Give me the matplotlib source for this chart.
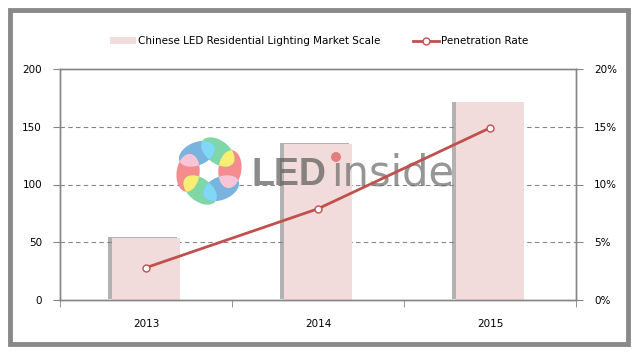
import numpy as np
import matplotlib.pyplot as plt
import matplotlib.patheffects as pe
from matplotlib.patches import Rectangle, Ellipse, Circle, Patch

years = ["2013", "2014", "2015"]
market_scale = [54, 135, 171]
penetration = [2.8, 7.9, 14.9]  # percent

left_ticks = [0, 50, 100, 150, 200]
right_ticks = [0, 5, 10, 15, 20]
right_labels = ["0%", "5%", "10%", "15%", "20%"]

bar_color = "#F2DCDB"
line_color = "#C0504D"
axis_color = "#868686"

plt.rcParams["font.family"] = ["DejaVu Sans"]
plt.rcParams["font.size"] = 7.5

fig = plt.figure(figsize=(6.36, 3.54), dpi=100)
ax = fig.add_axes([60 / 636, 1 - 300 / 354, 516 / 636, 231 / 354])
ax2 = ax.twinx()

x = np.arange(len(years))

# --- grid ---
for v in left_ticks[1:-1]:
    ax.axhline(v, color=axis_color, linewidth=0.8, linestyle=(0, (4, 3)), zorder=0)

# --- bars with left shadow ---
bars = ax.bar(x, market_scale, width=0.4, color=bar_color, zorder=2)
for b in bars:
    b.set_path_effects([
        pe.SimplePatchShadow(offset=(-2.5, 0.6), shadow_rgbFace="#7f7f7f", alpha=0.6),
        pe.Normal(),
    ])

ax.set_xlim(-0.5, 2.5)
ax.set_ylim(0, 200)
ax.set_yticks(left_ticks)
ax.set_xticks(x)
ax.set_xticklabels(years)
ax.set_xticks([-0.5, 0.5, 1.5, 2.5], minor=True)
ax.tick_params(axis="x", which="major", length=0, pad=14)
ax.tick_params(axis="x", which="minor", length=5, color=axis_color, direction="out")
ax.tick_params(axis="y", length=5, color=axis_color, direction="out", pad=8)

# --- line ---
line, = ax2.plot(x, penetration, color=line_color, linewidth=2, marker="o",
                 markersize=5, markerfacecolor="white", markeredgecolor=line_color,
                 markeredgewidth=1, zorder=4, label="Penetration Rate")
ax2.set_ylim(0, 20)
ax2.set_yticks(right_ticks)
ax2.set_yticklabels(right_labels)
ax2.tick_params(axis="y", length=5, color=axis_color, direction="out", pad=8)

for a in (ax, ax2):
    for s in a.spines.values():
        s.set_color(axis_color)
        s.set_linewidth(1)

# --- watermark logo (pixel coordinates, between bars and line) ---
logo = fig.add_axes([0, 0, 1, 1])
logo.set_xlim(0, 636)
logo.set_ylim(354, 0)
logo.axis("off")
logo.patch.set_visible(False)

ax.set_zorder(1)
logo.set_zorder(1.5)
ax2.set_zorder(2)
ax2.patch.set_visible(False)

cx, cy, dist = 209, 171, 21
petal_colors = ["#f58c8e", "#7fd6a6", "#78b4de", "#f58c8e", "#7fd6a6", "#78b4de"]
mix_colors = ["#fbee73", "#7fd8f5", "#f8c5d7", "#fbee73", "#7fd8f5", "#f8c5d7"]
petals = []
for i, c in enumerate(petal_colors):
    t = np.deg2rad(5 + 60 * i)
    e = Ellipse((cx + dist * np.cos(t), cy - dist * np.sin(t)), 38, 23,
                angle=-(np.rad2deg(t) + 90 - 12), facecolor=c, edgecolor="none")
    logo.add_patch(e)
    petals.append(e)
for i, c in enumerate(mix_colors):
    a, b = petals[i], petals[(i + 1) % 6]
    m = Ellipse(b.center, b.width, b.height, angle=b.angle, facecolor=c,
                edgecolor="none")
    logo.add_patch(m)
    m.set_clip_path(a)

logo.text(252, 185, "LED", fontsize=27, fontweight="bold", color="#5a5a5a",
          alpha=0.7, va="baseline", ha="left", family=["Liberation Sans", "DejaVu Sans"])
logo.text(331, 185, "\u0131nside", fontsize=30, color="#6a6a6a",
          alpha=0.7, va="baseline", ha="left")
logo.add_patch(Circle((336, 157), 5, facecolor="#e06c70", edgecolor="none", alpha=0.85))

# --- legend ---
bar_handle = Patch(facecolor=bar_color, edgecolor="none",
                   label="Chinese LED Residential Lighting Market Scale")
fig.legend(handles=[bar_handle, line], loc="center", bbox_to_anchor=(0.502, 1 - 41 / 354),
           ncol=2, frameon=False, fontsize=7.5, handlelength=2.5, handleheight=0.6,
           handletextpad=0.2, columnspacing=3.1)

# --- outer border ---
fig.patches.append(Rectangle((10 / 636, 10 / 354), 618 / 636, 334 / 354,
                             transform=fig.transFigure, fill=False,
                             edgecolor="#898989", linewidth=3.5, zorder=10))

fig.savefig("out.png", dpi=100)
